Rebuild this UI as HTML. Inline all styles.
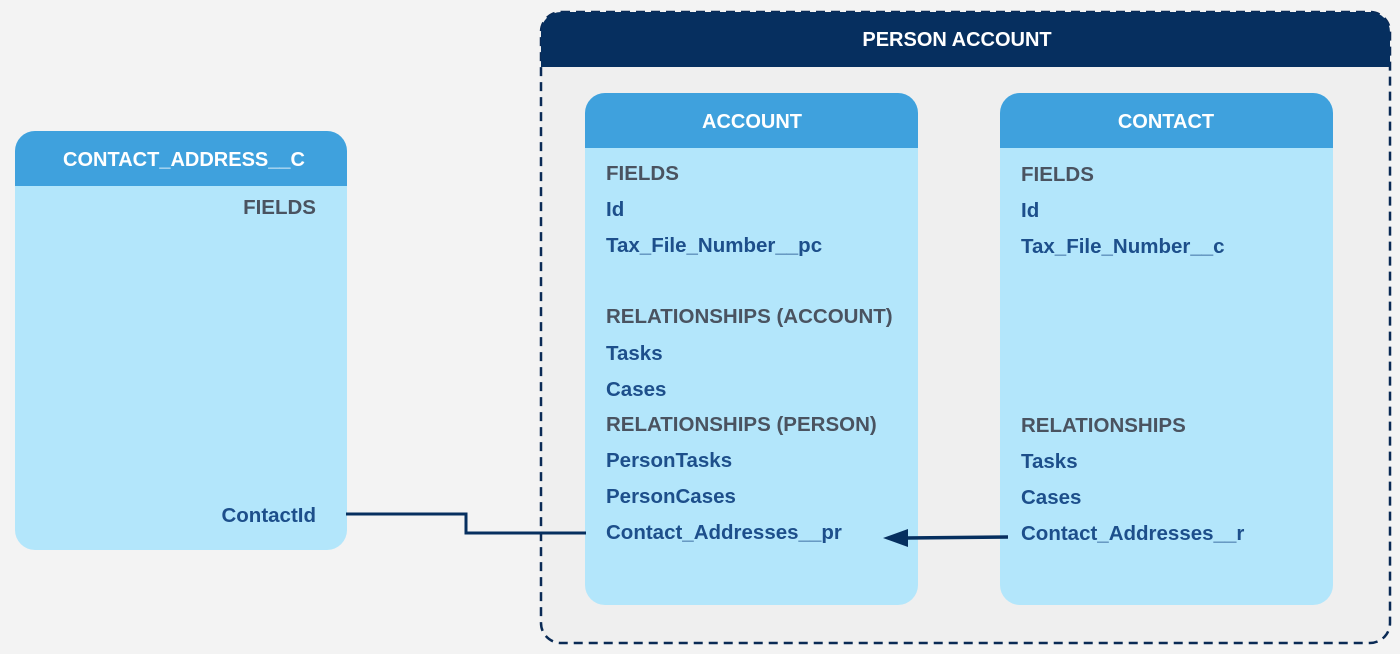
<!DOCTYPE html>
<html><head><style>body{margin:0;background:#f3f3f3}svg{display:block}</style></head><body>
<svg width="1400" height="654" viewBox="0 0 1400 654" xmlns="http://www.w3.org/2000/svg" font-family="Liberation Sans, sans-serif">
<rect width="1400" height="654" fill="#f3f3f3"/>
<!-- person account -->
<rect x="541" y="12" width="849" height="631" rx="20" fill="#efefef" stroke="#0a2a55" stroke-width="2.5" stroke-dasharray="9,6"/>
<path d="M541 67 V32 a20 20 0 0 1 20 -20 H1370 a20 20 0 0 1 20 20 V67 Z" fill="#062f5f"/>
<text x="957" y="46" text-anchor="middle" font-size="20" font-weight="bold" fill="#fff">PERSON ACCOUNT</text>
<!-- account -->
<rect x="585" y="93" width="333" height="512" rx="20" fill="#b3e6fb"/>
<path d="M585 148 V113 a20 20 0 0 1 20 -20 H898 a20 20 0 0 1 20 20 V148 Z" fill="#3fa1dd"/>
<text x="752" y="128" text-anchor="middle" font-size="20" font-weight="bold" fill="#fff">ACCOUNT</text>
<g font-size="20.5" font-weight="bold">
<text x="606" y="180" fill="#4a5360">FIELDS</text>
<text x="606" y="216" fill="#1d4f8b">Id</text>
<text x="606" y="252" fill="#1d4f8b">Tax_File_Number__pc</text>
<text x="606" y="323" fill="#4a5360">RELATIONSHIPS (ACCOUNT)</text>
<text x="606" y="360" fill="#1d4f8b">Tasks</text>
<text x="606" y="396" fill="#1d4f8b">Cases</text>
<text x="606" y="431" fill="#4a5360">RELATIONSHIPS (PERSON)</text>
<text x="606" y="467" fill="#1d4f8b">PersonTasks</text>
<text x="606" y="503" fill="#1d4f8b">PersonCases</text>
<text x="606" y="539" fill="#1d4f8b">Contact_Addresses__pr</text>
</g>
<!-- contact -->
<rect x="1000" y="93" width="333" height="512" rx="20" fill="#b3e6fb"/>
<path d="M1000 148 V113 a20 20 0 0 1 20 -20 H1313 a20 20 0 0 1 20 20 V148 Z" fill="#3fa1dd"/>
<text x="1166" y="128" text-anchor="middle" font-size="20" font-weight="bold" fill="#fff">CONTACT</text>
<g font-size="20.5" font-weight="bold">
<text x="1021" y="181" fill="#4a5360">FIELDS</text>
<text x="1021" y="217" fill="#1d4f8b">Id</text>
<text x="1021" y="253" fill="#1d4f8b">Tax_File_Number__c</text>
<text x="1021" y="432" fill="#4a5360">RELATIONSHIPS</text>
<text x="1021" y="468" fill="#1d4f8b">Tasks</text>
<text x="1021" y="504" fill="#1d4f8b">Cases</text>
<text x="1021" y="540" fill="#1d4f8b">Contact_Addresses__r</text>
</g>
<!-- contact address -->
<rect x="15" y="131" width="332" height="419" rx="20" fill="#b3e6fb"/>
<path d="M15 186 V151 a20 20 0 0 1 20 -20 H327 a20 20 0 0 1 20 20 V186 Z" fill="#3fa1dd"/>
<text x="184" y="166" text-anchor="middle" font-size="20" font-weight="bold" fill="#fff">CONTACT_ADDRESS__C</text>
<g font-size="20.5" font-weight="bold" text-anchor="end">
<text x="316" y="214" fill="#4a5360">FIELDS</text>
<text x="316" y="522" fill="#1d4f8b">ContactId</text>
</g>
<!-- connectors -->
<polyline points="346,514 466,514 466,533 586,533" fill="none" stroke="#062f5f" stroke-width="3"/>
<line x1="1008" y1="537" x2="905" y2="538" stroke="#062f5f" stroke-width="3.5"/>
<polygon points="883,538 908,529 908,547" fill="#062f5f"/>
</svg>
</body></html>
